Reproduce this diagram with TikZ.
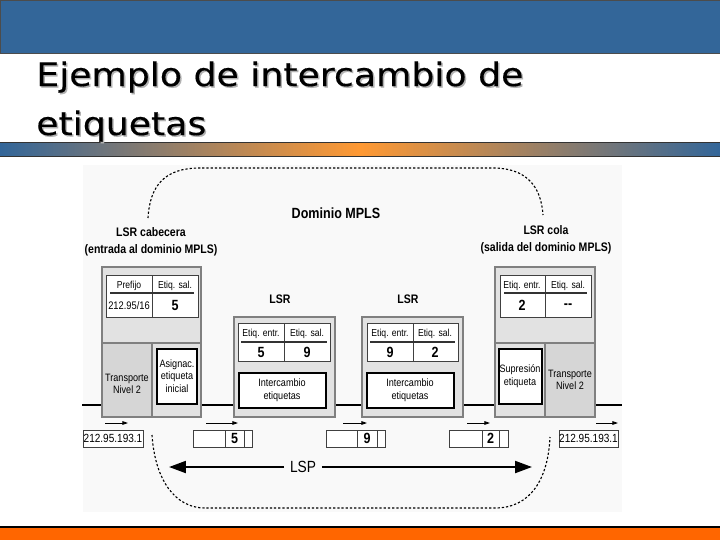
\documentclass[tikz,border=0pt]{standalone}
\usepackage{fontspec}
\setmainfont{Liberation Sans}
\newfontfamily\titulofont[FakeStretch=1.12, FakeBold=0.4]{DejaVu Sans}
\newfontfamily\esquemafont[FakeStretch=0.85]{Liberation Sans}
\usepackage{xcolor}
\usetikzlibrary{arrows.meta}

\definecolor{azulbarra}{RGB}{51,102,153}
\definecolor{naranjabarra}{RGB}{255,153,51}
\definecolor{naranjapie}{RGB}{255,102,0}
\definecolor{grislsr}{RGB}{226,226,226}
\definecolor{gristransp}{RGB}{214,214,214}
\definecolor{grisborde}{RGB}{128,128,128}
\definecolor{fondo}{RGB}{249,249,249}

\begin{document}
\begin{tikzpicture}[x=0.025cm, y=-0.025cm,
        lsrcaja/.style={draw=grisborde, fill=grislsr, line width=0.8pt},
        tablacaja/.style={draw=black!75, fill=white, line width=0.6pt},
        funccaja/.style={draw=black, fill=white, line width=1.6pt},
        paqcaja/.style={draw=black!75, fill=white, line width=0.6pt},
        enlace/.style={line width=1.8pt},
        dominio/.style={line width=0.8pt, dash pattern=on 1.6pt off 1.4pt},
        flechita/.style={line width=0.6pt, -{Triangle[length=4pt,width=2.6pt]}},
        flechalsp/.style={line width=1.4pt, -{Triangle[length=12pt,width=8.5pt]}},
        txtpeq/.style={font=\esquemafont\fontsize{7.2}{8}\selectfont, inner sep=0pt,
            text height=1.6ex, text depth=0.4ex},
        txtfunc/.style={font=\esquemafont\fontsize{7.6}{9}\selectfont, align=center, inner sep=0pt},
        txtval/.style={font=\esquemafont\bfseries\fontsize{10.5}{11}\selectfont, inner sep=0pt},
        txtdir/.style={font=\esquemafont\fontsize{8.4}{9}\selectfont, inner sep=0pt},
        txtlsr/.style={font=\esquemafont\bfseries\fontsize{8.8}{12}\selectfont, align=center, inner sep=0pt},
        titulo/.style={font=\titulofont\fontsize{23}{28}\selectfont, anchor=base west, inner sep=0pt}]
        \useasboundingbox (0,0) rectangle (720,540);
        \fill[white] (0,0) rectangle (720,540);

        \filldraw[fill=azulbarra, draw=black!70, line width=0.6pt] (0,0) rectangle (720,53);
        \shade[left color=azulbarra, right color=azulbarra, middle color=naranjabarra]
            (0,142) rectangle (720,156);
        \draw[black!80, line width=0.6pt] (0,142) -- (720,142) (0,156) -- (720,156);
        \fill[naranjapie] (0,527) rectangle (720,540);
        \draw[black, line width=0.8pt] (0,527) -- (720,527);

        \node[titulo, text=black!30] (sombra1) at (37.5,87.5) {Ejemplo de intercambio de};
        \node[titulo, text=black!30] (sombra2) at (37.5,136.5) {etiquetas};
        \node[titulo] (titulo1) at (36,86) {Ejemplo de intercambio de};
        \node[titulo] (titulo2) at (36,135) {etiquetas};

        \fill[fondo] (83,165) rectangle (622,512);

        \draw[dominio] (148,218) .. controls (150,185) and (165,168) .. (200,168)
            -- (493,168) .. controls (525,168) and (541,185) .. (543,215);
        \draw[dominio] (152,435) .. controls (155,480) and (175,508) .. (205,508)
            -- (495,508) .. controls (530,508) and (548,480) .. (550,437);

        \node[txtlsr, font=\esquemafont\bfseries\fontsize{10.5}{12}\selectfont] (dominio) at (336,213) {Dominio MPLS};
        \node[txtlsr] (cabecera) at (151,242) {LSR cabecera\\(entrada al dominio MPLS)};
        \node[txtlsr] (cola) at (546,240) {LSR cola\\(salida del dominio MPLS)};
        \node[txtlsr] (lsr1) at (280,299) {LSR};
        \node[txtlsr] (lsr2) at (408,299) {LSR};

        \coordinate (enlaceI) at (82,405);
        \coordinate (enlaceD) at (622,405);
        \draw[enlace] (enlaceI) -- (enlaceD);

        \filldraw[lsrcaja] (102,267) rectangle (201,417);
        \fill[gristransp] (102,343) rectangle (152,417);
        \draw[grisborde, line width=0.8pt] (102,343) -- (201,343) (152,343) -- (152,417)
            (102,267) rectangle (201,417);
        \filldraw[tablacaja] (106,275) rectangle (198,317);
        \draw[black!75, line width=0.6pt] (152,275) -- (152,317);
        \draw[black!80, line width=0.8pt] (110,293) -- (194,293);
        \node[txtpeq] (prefijo) at (129,284) {Prefijo};
        \node[txtpeq] (salcab) at (175,284) {Etiq. sal.};
        \node[txtpeq, font=\esquemafont\fontsize{7.8}{9}\selectfont] (red) at (129,305) {212.95/16};
        \node[txtval] (valcab) at (175,305) {5};
        \filldraw[funccaja] (157,349) rectangle (197,404);
        \node[txtfunc] (asignac) at (177,376) {Asignac.\\etiqueta\\inicial};
        \node[txtfunc] (transpI) at (127,384) {Transporte\\Nivel 2};

        \filldraw[lsrcaja] (234,317) rectangle (335,417);
        \filldraw[tablacaja] (238,323) rectangle (330,361);
        \draw[black!75, line width=0.6pt] (284,323) -- (284,361);
        \draw[black!80, line width=0.8pt] (241,342) -- (327,342);
        \node[txtpeq] (entr1) at (261,332) {Etiq. entr.};
        \node[txtpeq] (sal1) at (307,332) {Etiq. sal.};
        \node[txtval] (valentr1) at (261,352) {5};
        \node[txtval] (valsal1) at (307,352) {9};
        \filldraw[funccaja] (239,373) rectangle (326,408);
        \node[txtfunc] (interc1) at (282,390) {Intercambio\\etiquetas};

        \filldraw[lsrcaja] (362,317) rectangle (463,417);
        \filldraw[tablacaja] (367,323) rectangle (458,361);
        \draw[black!75, line width=0.6pt] (413,323) -- (413,361);
        \draw[black!80, line width=0.8pt] (370,342) -- (455,342);
        \node[txtpeq] (entr2) at (390,332) {Etiq. entr.};
        \node[txtpeq] (sal2) at (435,332) {Etiq. sal.};
        \node[txtval] (valentr2) at (390,352) {9};
        \node[txtval] (valsal2) at (435,352) {2};
        \filldraw[funccaja] (367,373) rectangle (454,408);
        \node[txtfunc] (interc2) at (410,390) {Intercambio\\etiquetas};

        \filldraw[lsrcaja] (495,267) rectangle (595,417);
        \fill[gristransp] (545,343) rectangle (595,417);
        \draw[grisborde, line width=0.8pt] (495,343) -- (595,343) (545,343) -- (545,417)
            (495,267) rectangle (595,417);
        \filldraw[tablacaja] (500,275) rectangle (591,317);
        \draw[black!75, line width=0.6pt] (545,275) -- (545,317);
        \draw[black!80, line width=0.8pt] (504,293) -- (587,293);
        \node[txtpeq] (entrcola) at (522,284) {Etiq. entr.};
        \node[txtpeq] (salcola) at (568,284) {Etiq. sal.};
        \node[txtval] (valcola) at (522,305) {2};
        \node[txtval] (vacio) at (568,306) {--};
        \filldraw[funccaja] (499,349) rectangle (542,404);
        \node[txtfunc] (supresion) at (520,376) {Supresión\\etiqueta};
        \node[txtfunc] (transpD) at (570,380) {Transporte\\Nivel 2};

        \filldraw[paqcaja] (83,430) rectangle (143,447);
        \node[txtdir] (ipI) at (113,438.5) {212.95.193.1};
        \coordinate (f0a) at (105,423);
        \coordinate (f0b) at (128,423);
        \draw[flechita] (f0a) -- (f0b);

        \filldraw[paqcaja] (193,430) rectangle (252,447);
        \draw[black!75, line width=0.6pt] (225,430) -- (225,447) (244,430) -- (244,447);
        \node[txtval] (paq5) at (234.5,438.5) {5};
        \coordinate (f1a) at (206,423);
        \coordinate (f1b) at (238,423);
        \draw[flechita] (f1a) -- (f1b);

        \filldraw[paqcaja] (326,430) rectangle (385,447);
        \draw[black!75, line width=0.6pt] (357,430) -- (357,447) (377,430) -- (377,447);
        \node[txtval] (paq9) at (367,438.5) {9};
        \coordinate (f2a) at (343,423);
        \coordinate (f2b) at (367,423);
        \draw[flechita] (f2a) -- (f2b);

        \filldraw[paqcaja] (449,430) rectangle (508,447);
        \draw[black!75, line width=0.6pt] (482,430) -- (482,447) (499,430) -- (499,447);
        \node[txtval] (paq2) at (490.5,438.5) {2};
        \coordinate (f3a) at (467,423);
        \coordinate (f3b) at (490,423);
        \draw[flechita] (f3a) -- (f3b);

        \filldraw[paqcaja] (559,430) rectangle (618,447);
        \node[txtdir] (ipD) at (588.5,438.5) {212.95.193.1};
        \coordinate (f4a) at (596,423);
        \coordinate (f4b) at (618,423);
        \draw[flechita] (f4a) -- (f4b);

        \node[txtdir, font=\esquemafont\fontsize{11.5}{12}\selectfont, inner xsep=4pt] (lsp) at (303,467) {LSP};
        \coordinate (lspI) at (169,467);
        \coordinate (lspD) at (532,467);
        \draw[flechalsp] (lsp) -- (lspI);
        \draw[flechalsp] (lsp) -- (lspD);
\end{tikzpicture}
\end{document}
